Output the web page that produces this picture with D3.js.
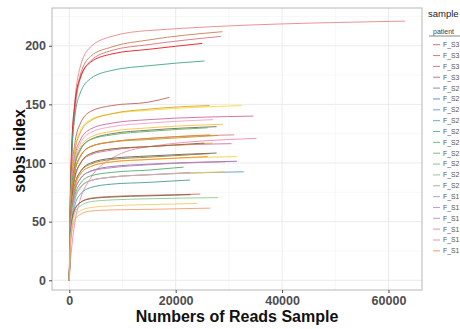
<!DOCTYPE html>
<html>
<head>
<meta charset="utf-8">
<script src="https://cdn.jsdelivr.net/npm/d3@7"></script>
<style>
  body { margin: 0; background: #fff; }
  svg { display: block; font-family: "Liberation Sans", Arial, sans-serif; }
</style>
</head>
<body>
<svg id="chart"></svg>
<script>
// Read depths shared by every curve (the last point of each curve is its own end depth)
const depths = [0, 200, 500, 1000, 2000, 4000, 8000, 15000];

// One entry per curve
const curveEnds = [63100, 28800, 28500, 25000, 25400, 18800, 32400, 26400, 34600, 27000,
                   28900, 27700, 26000, 31000, 28000, 26500, 35200, 30500, 26900, 25400,
                   27700, 26400, 31500, 26000, 31500, 29300, 21500, 32800, 29300, 22700,
                   22700, 24600, 22800, 28000, 24000, 26500];

const curveValues = [
  [0, 66, 115, 150, 181, 199, 208, 213, 221],
  [0, 64, 110, 144, 174, 191, 199, 205, 212],
  [0, 62, 108, 141, 171, 187, 196, 201, 208],
  [0, 73, 119, 149, 172, 186, 193, 197, 202],
  [0, 67, 110, 138, 159, 172, 179, 183, 187],
  [0, 56, 92, 115, 133, 144, 149, 152, 156],
  [0, 54, 88, 110, 127, 137, 142, 145, 149],
  [0, 52, 86, 108, 125, 136, 142, 146, 149],
  [0, 50, 83, 104, 119, 129, 134, 137, 140],
  [0, 49, 81, 101, 116, 126, 131, 134, 137],
  [0, 48, 78, 98, 113, 122, 127, 130, 133],
  [0, 47, 77, 97, 111, 120, 125, 128, 131],
  [0, 47, 77, 96, 110, 120, 124, 127, 130],
  [0, 45, 73, 92, 105, 114, 118, 121, 124],
  [0, 44, 73, 91, 105, 114, 118, 120, 123.5],
  [0, 45, 73, 92, 105, 114, 118, 121, 124],
  [0, 15, 30, 48, 68, 87, 104, 114, 121],
  [0, 42, 69, 86, 99, 107, 111, 114, 116.5],
  [0, 42, 69, 87, 99, 108, 112, 114, 117],
  [0, 42, 69, 87, 99, 108, 112, 114, 117],
  [0, 39, 64, 80, 92, 100, 104, 106, 108.5],
  [0, 39, 64, 80, 92, 99, 103, 105, 108],
  [0, 38, 62, 78, 90, 97, 101, 103, 105.5],
  [0, 38, 62, 78, 90, 97, 101, 103, 105.5],
  [0, 37, 60, 75, 86, 93, 97, 99, 101.5],
  [0, 36, 60, 75, 86, 93, 96, 98.5, 101],
  [0, 35, 57, 71, 82, 89, 92, 94, 96.5],
  [0, 33, 55, 68, 79, 85, 88, 90, 92.5],
  [0, 33, 55, 68, 79, 85, 88, 90, 92.5],
  [0, 33, 54, 68, 78, 85, 88, 90, 92],
  [0, 31, 50, 63, 73, 79, 82, 83.5, 85.5],
  [0, 32, 50, 60, 66, 70, 71.5, 72.5, 73.5],
  [0, 32, 50, 60, 66, 69.5, 71, 72, 73],
  [0, 30, 47, 57, 63, 67, 68.5, 69.5, 70.5],
  [0, 30, 45, 54, 59, 62, 63.5, 64.5, 65.5],
  [0, 28, 42, 51, 56, 59, 60, 60.5, 61.5]
];

const curveColors = ["#E8878A", "#C9805A", "#D9737F", "#E41A1C", "#3FA68C", "#C2605A",
                     "#FFD92F", "#D9A52A", "#C86BA0", "#F2A0C8", "#F5C342", "#6E6E50",
                     "#66B266", "#E08080", "#B8A030", "#E6862A", "#F08CB4", "#D070A8",
                     "#F0A050", "#8C6A40", "#606060", "#A08030", "#F5D040", "#F09030",
                     "#8C70B0", "#C080B0", "#4DAF70", "#5B9BD5", "#F2C84B", "#C8A0D0",
                     "#4A9A9A", "#D07060", "#806050", "#8CCB8C", "#F5C86E", "#F4A070"];

// Legend entries (only the visible part of each label)
const legendNames = ["F_S3", "F_S3", "F_S3", "F_S3",
                     "F_S2", "F_S2", "F_S2", "F_S2", "F_S2", "F_S2", "F_S2", "F_S2", "F_S2", "F_S2",
                     "F_S1", "F_S1", "F_S1", "F_S1", "F_S1", "F_S1"];
const legendColors = ["#E8747C", "#E57C8C", "#D98296", "#B98AA8", "#9C98B6", "#6FA0D2", "#78B2D4",
                      "#6DBDB8", "#6CBD98", "#78C387", "#88C97E", "#98CC88", "#A8C4A0", "#B4B4B4",
                      "#B8B0C0", "#BFA2CF", "#CB9CCB", "#E29CC0", "#EBA0A8", "#F2A46A"];

const xTicks = [0, 20000, 40000, 60000];
const yTicks = [0, 50, 100, 150, 200];
const xMinor = [10000, 30000, 50000];
const yMinor = [25, 75, 125, 175, 225];

const W = 460, H = 329;
const panel = { left: 52, right: 422, top: 8, bottom: 290 };

const svg = d3.select("#chart").attr("width", W).attr("height", H);

const x = d3.scaleLinear().domain([-3250, 66300]).range([panel.left, panel.right]);
const y = d3.scaleLinear().domain([-8.3, 232.2]).range([panel.bottom, panel.top]);

// minor grid
svg.append("g").selectAll("line").data(xMinor).enter().append("line")
    .attr("x1", d => x(d)).attr("x2", d => x(d))
    .attr("y1", panel.top).attr("y2", panel.bottom)
    .attr("stroke", "#F4F4F4").attr("stroke-width", 0.6);
svg.append("g").selectAll("line").data(yMinor).enter().append("line")
    .attr("y1", d => y(d)).attr("y2", d => y(d))
    .attr("x1", panel.left).attr("x2", panel.right)
    .attr("stroke", "#F4F4F4").attr("stroke-width", 0.6);

// major grid
svg.append("g").selectAll("line").data(xTicks).enter().append("line")
    .attr("x1", d => x(d)).attr("x2", d => x(d))
    .attr("y1", panel.top).attr("y2", panel.bottom)
    .attr("stroke", "#EBEBEB").attr("stroke-width", 1);
svg.append("g").selectAll("line").data(yTicks).enter().append("line")
    .attr("y1", d => y(d)).attr("y2", d => y(d))
    .attr("x1", panel.left).attr("x2", panel.right)
    .attr("stroke", "#EBEBEB").attr("stroke-width", 1);

// curves
const line = d3.line()
    .x(d => x(d[0]))
    .y(d => y(d[1]))
    .curve(d3.curveMonotoneX);

const curves = curveValues.map((vals, i) => {
    const pts = depths.map((dep, j) => [dep, vals[j]]);
    pts.push([curveEnds[i], vals[vals.length - 1]]);
    return { pts: pts, color: curveColors[i] };
});

svg.append("g").selectAll("path").data(curves).enter().append("path")
    .attr("d", d => line(d.pts))
    .attr("fill", "none")
    .attr("stroke", d => d.color)
    .attr("stroke-width", 1)
    .attr("stroke-opacity", 0.9);

// panel border
svg.append("rect")
    .attr("x", panel.left).attr("y", panel.top)
    .attr("width", panel.right - panel.left).attr("height", panel.bottom - panel.top)
    .attr("fill", "none").attr("stroke", "#B8B8B8").attr("stroke-width", 1);

// axes
const xAxis = svg.append("g")
    .attr("transform", "translate(0," + panel.bottom + ")")
    .call(d3.axisBottom(x).tickValues(xTicks).tickSize(3).tickPadding(3).tickFormat(d3.format("d")));
const yAxis = svg.append("g")
    .attr("transform", "translate(" + panel.left + ",0)")
    .call(d3.axisLeft(y).tickValues(yTicks).tickSize(3).tickPadding(3));

[xAxis, yAxis].forEach(a => {
    a.select(".domain").remove();
    a.selectAll(".tick line").attr("stroke", "#4D4D4D");
    a.selectAll("text")
        .style("font-size", "12.5px")
        .style("font-weight", "bold")
        .style("fill", "#4D4D4D")
        .style("font-family", "'Liberation Sans', Arial, sans-serif");
});

// axis titles
svg.append("text")
    .attr("x", (panel.left + panel.right) / 2)
    .attr("y", 322)
    .attr("text-anchor", "middle")
    .style("font-size", "16px")
    .style("font-weight", "bold")
    .style("fill", "#111")
    .text("Numbers of Reads Sample");

svg.append("text")
    .attr("transform", "rotate(-90)")
    .attr("x", -151)
    .attr("y", 25)
    .attr("text-anchor", "middle")
    .style("font-size", "16px")
    .style("font-weight", "bold")
    .style("fill", "#111")
    .text("sobs index");

// legend
const legend = svg.append("g");
legend.append("text")
    .attr("x", 428).attr("y", 17)
    .style("font-size", "9.5px")
    .style("fill", "#222")
    .text("sample");
legend.append("text")
    .attr("x", 433).attr("y", 33.5)
    .style("font-size", "7px")
    .style("fill", "#444")
    .text("patient");
legend.append("line")
    .attr("x1", 429).attr("x2", 460)
    .attr("y1", 36).attr("y2", 36)
    .attr("stroke", "#555").attr("stroke-width", 0.7);

const entries = legend.selectAll(".entry")
    .data(legendNames).enter().append("g")
    .attr("class", "entry")
    .attr("transform", (d, i) => "translate(0," + (44.7 + i * 10.85) + ")");
entries.append("line")
    .attr("x1", 433).attr("x2", 440)
    .attr("stroke", (d, i) => legendColors[i])
    .attr("stroke-width", 1.1);
entries.append("text")
    .attr("x", 443).attr("y", 2.4)
    .style("font-size", "6.8px")
    .style("fill", "#555")
    .text(d => d);
</script>
</body>
</html>
